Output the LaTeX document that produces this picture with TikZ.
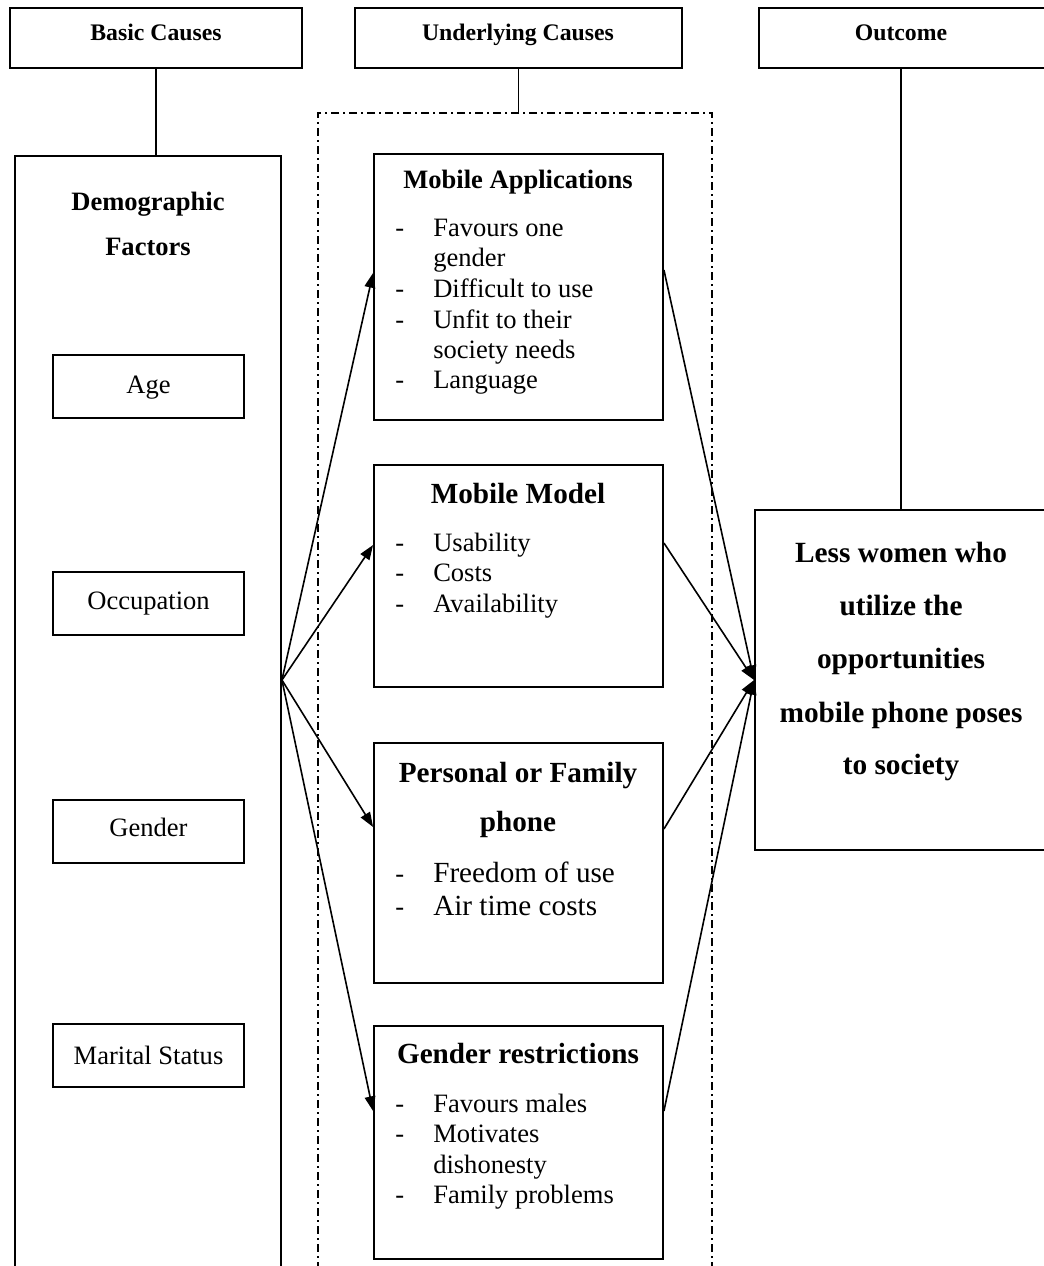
\documentclass[tikz,border=0pt]{standalone}
\usepackage{fontspec}
\setmainfont{Liberation Serif}
\usetikzlibrary{arrows.meta,fit}

\begin{document}
\begin{tikzpicture}[x=0.75pt,y=-0.75pt,
    box/.style={draw,line width=1.4pt,inner sep=0pt},
    group/.style={draw,line width=1pt,inner sep=0pt,dash pattern=on 6pt off 3pt on 1.5pt off 3pt},
    conn/.style={line width=1.2pt},
    arr/.style={line width=1.2pt,-{Triangle[length=11pt,width=8pt]}},
    head/.style={font=\fontsize{17.8}{20}\selectfont\bfseries,anchor=base,inner sep=0pt},
    title/.style={font=\fontsize{19.9}{23}\selectfont\bfseries,anchor=base,inner sep=0pt},
    big/.style={font=\fontsize{21.9}{25}\selectfont\bfseries,anchor=base,inner sep=0pt},
    plain/.style={font=\fontsize{19.9}{23}\selectfont,anchor=base,inner sep=0pt},
    item/.style={font=\fontsize{19.9}{23}\selectfont,anchor=base west,inner sep=0pt}]
  \useasboundingbox (0,0) rectangle (1043,1266);
  % headings
  \node[box,fit={(10,8)(302,68)}] (basic) {};
  \node[box,fit={(355,8)(682,68)}] (under) {};
  \node[box,fit={(759,8)(1045,68)}] (outhead) {};
  \node[head] (basic-t) at (156,41) {Basic Causes};
  \node[head] (under-t) at (518,41) {Underlying Causes};
  \node[head] (outhead-t) at (901,41) {Outcome};
  % basic causes
  \node[box,fit={(15,156)(281,1290)}] (demo) {};
  \node[title] (demo-t1) at (148,211) {Demographic};
  \node[title] (demo-t2) at (148,256) {Factors};
  \foreach \n/\t/\y/\b in {age/Age/355/393, occ/Occupation/572/609, gen/Gender/800/836, mar/Marital Status/1024/1064}{
    \node[box,fit={(53,\y)(244,\y+63)}] (\n) {};
    \node[plain] (\n-t) at (148.5,\b) {\t};
  }
  % underlying causes
  \node[group,fit={(318,113)(712,1290)}] (grp) {};
  \node[box,fit={(374,154)(663,420)}] (apps) {};
  \node[box,fit={(374,465)(663,687)}] (model) {};
  \node[box,fit={(374,743)(663,983)}] (family) {};
  \node[box,fit={(374,1026)(663,1259)}] (restrict) {};
  \node[title] (apps-t) at (518,189) {Mobile Applications};
  \node[big] (model-t) at (518,503) {Mobile Model};
  \node[big] (family-t1) at (518,782) {Personal or Family};
  \node[big] (family-t2) at (518,831) {phone};
  \node[big] (restrict-t) at (518,1063) {Gender restrictions};
  \foreach \y/\d/\t [count=\i] in {237/-/Favours one, 267//gender, 297/-/Difficult to use,
      328/-/Unfit to their, 358//society needs, 388/-/Language}{
    \node[item] (apps-d\i) at (395,\y) {\d};
    \node[item] (apps-\i) at (433,\y) {\t};
  }
  \foreach \y/\t [count=\i] in {551/Usability, 581/Costs, 612/Availability}{
    \node[item] (model-d\i) at (395,\y) {-};
    \node[item] (model-\i) at (433,\y) {\t};
  }
  \foreach \y/\t [count=\i] in {882/Freedom of use, 915/Air time costs}{
    \node[item] (family-d\i) at (395,\y) {-};
    \node[item,font=\fontsize{21.9}{25}\selectfont] (family-\i) at (433,\y) {\t};
  }
  \foreach \y/\d/\t [count=\i] in {1112/-/Favours males, 1142/-/Motivates, 1173//dishonesty, 1203/-/Family problems}{
    \node[item] (restrict-d\i) at (395,\y) {\d};
    \node[item] (restrict-\i) at (433,\y) {\t};
  }
  % outcome
  \node[box,fit={(755,510)(1047,850)}] (result) {};
  \foreach \y/\t [count=\i] in {562/Less women who, 615/utilize the, 668/opportunities,
      722/mobile phone poses, 774/to society}
    \node[big,font=\fontsize{22}{25}\selectfont\bfseries] (result-\i) at (901,\y) {\t};
  % connectors
  \draw[conn] (basic.south) -- (basic.south |- demo.north);
  \draw[conn] (under.south) -- (under.south |- grp.north);
  \draw[conn] (result.north) -- (result.north |- outhead.south);
  \coordinate (src) at (demo.east |- 0,680);
  \coordinate (dst) at (result.west |- 0,680);
  \draw[arr] (src) -- (apps.west |- 0,273);
  \draw[arr] (src) -- (model.west |- 0,545);
  \draw[arr] (src) -- (family.west |- 0,827);
  \draw[arr] (src) -- (restrict.west |- 0,1111);
  \draw[arr] (apps.east |- 0,270) -- (dst);
  \draw[arr] (model.east |- 0,543) -- (dst);
  \draw[arr] (family.east |- 0,829) -- (dst);
  \draw[arr] (restrict.east |- 0,1111) -- (dst);
\end{tikzpicture}
\end{document}
